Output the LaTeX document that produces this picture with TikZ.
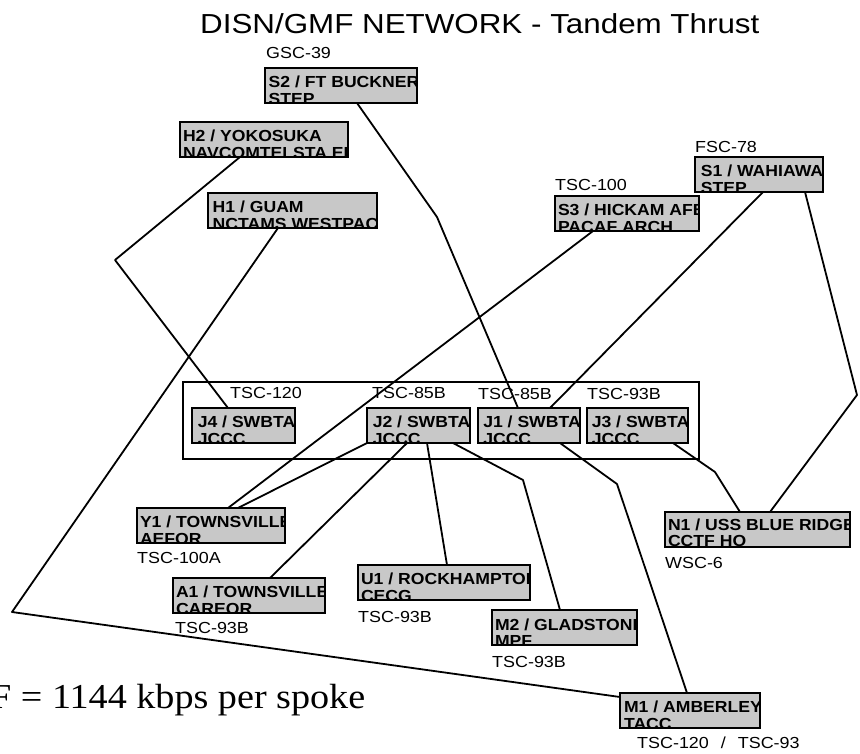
\documentclass[tikz,border=0pt]{standalone}
\usepackage{fontspec}
\setmainfont{Liberation Serif}[FakeStretch=1.09]
\newfontfamily\lblfamily{Liberation Sans}[FakeStretch=1.12]
\newfontfamily\titlefamily{Liberation Sans}[FakeStretch=1.14]
\newfontfamily\boxfamily{Liberation Sans}[FakeStretch=1.1]
\definecolor{boxgray}{RGB}{200,200,200}
\newcommand\stn[5]{%
  \node[stnbox, minimum width=#4pt, path picture={\node[boxtxt] at ([xshift=3pt,yshift=-5pt]path picture bounding box.north west) {#5};}] (#1) at (#2,#3) {};}
\begin{document}
\begin{tikzpicture}[x=1pt,y=-1pt,
  stnbox/.style={draw, line width=2.6pt, fill=boxgray, anchor=north west, minimum height=35pt, inner sep=0pt, outer sep=0pt},
  boxtxt/.style={anchor=north west, inner sep=0pt, align=left, font=\boxfamily\bfseries\fontsize{16}{16.5}\selectfont},
  lbl/.style={anchor=base west, inner sep=0pt, font=\lblfamily\fontsize{16}{18}\selectfont},
  wire/.style={line width=1.8pt, line join=round},
]
\useasboundingbox (0,0) rectangle (860,753);
\clip (0,0) rectangle (860,753);

\node[anchor=base west, inner sep=0pt, font=\titlefamily\fontsize{27.5}{30}\selectfont] (title) at (200,33) {DISN/GMF NETWORK - Tandem Thrust};

% group frame
\node[draw, line width=2.2pt, anchor=north west, minimum width=516pt, minimum height=77pt, inner sep=0pt] (grp) at (182,381) {};

% stations
\stn{S2}{265}{68}{152}{S2 / FT BUCKNER\\STEP}
\stn{H2}{180}{122}{168}{H2 / YOKOSUKA\\NAVCOMTELSTA EF}
\stn{H1}{208}{193}{169}{H1 / GUAM\\NCTAMS WESTPAC}
\stn{S3}{555}{196}{144}{S3 / HICKAM AFB\\PACAF ARCH}
\stn{S1}{695}{157}{128}{S1 / WAHIAWA\\STEP}
\stn{J4}{192}{408}{103}{J4 / SWBTA\\JCCC}
\stn{J2}{367}{408}{103}{J2 / SWBTA\\JCCC}
\stn{J1}{478}{408}{102}{J1 / SWBTA\\JCCC}
\stn{J3}{587}{408}{101}{J3 / SWBTA\\JCCC}
\stn{Y1}{137}{508}{148}{Y1 / TOWNSVILLE\\AEFOR}
\stn{A1}{173}{578}{152}{A1 / TOWNSVILLE\\CAREOR}
\stn{U1}{358}{565}{172}{U1 / ROCKHAMPTON\\CECG}
\stn{M2}{492}{610}{145}{M2 / GLADSTONE\\MPF}
\stn{N1}{665}{512}{185}{N1 / USS BLUE RIDGE\\CCTF HQ}
\stn{M1}{620}{693}{140}{M1 / AMBERLEY\\TACC}

% terminal labels
\node[lbl] (lS2) at (266,58) {GSC-39};
\node[lbl] (lS1) at (695,152) {FSC-78};
\node[lbl] (lS3) at (555,190) {TSC-100};
\node[lbl] (lJ4) at (230,398) {TSC-120};
\node[lbl] (lJ2) at (372,398) {TSC-85B};
\node[lbl] (lJ1) at (478,399) {TSC-85B};
\node[lbl] (lJ3) at (587,399) {TSC-93B};
\node[lbl] (lY1) at (137,563) {TSC-100A};
\node[lbl] (lA1) at (175,633) {TSC-93B};
\node[lbl] (lU1) at (358,622) {TSC-93B};
\node[lbl] (lM2) at (492,667) {TSC-93B};
\node[lbl] (lN1) at (665,568) {WSC-6};
\node[lbl] (lM1) at (637,748) {TSC-120\hspace{12pt}/\hspace{12pt}TSC-93};

\node[anchor=base west, inner sep=0pt, font=\fontsize{35}{38}\selectfont] (rate) at (-10,708) {F = 1144 kbps per spoke};

% bend points
\coordinate (kS2) at (437,217);
\coordinate (kH2) at (115,260);
\coordinate (kH1) at (12,612);
\coordinate (kS1) at (857,395);
\coordinate (kM2) at (523,480);
\coordinate (kM1) at (617,484);
\coordinate (kN1) at (715,472);

% links
\draw[wire] ([xshift=92pt]S2.south west) -- (kS2) -- ([xshift=40pt]J1.north west);
\draw[wire] ([xshift=60pt]H2.south west) -- (kH2) -- ([xshift=36pt]J4.north west);
\draw[wire] ([xshift=70pt]H1.south west) -- (kH1) -- ([yshift=-4pt]M1.north west);
\draw[wire] ([xshift=38pt]S3.south west) -- ([xshift=91pt]Y1.north west);
\draw[wire] ([xshift=68pt]S1.south west) -- ([xshift=72pt]J1.north west);
\draw[wire] ([xshift=110pt]S1.south west) -- (kS1) -- ([xshift=105pt]N1.north west);
\draw[wire] (J2.south west) -- ([xshift=101pt]Y1.north west);
\draw[wire] ([xshift=40pt]J2.south west) -- ([xshift=97pt]A1.north west);
\draw[wire] ([xshift=60pt]J2.south west) -- ([xshift=89pt]U1.north west);
\draw[wire] ([xshift=86pt]J2.south west) -- (kM2) -- ([xshift=68pt]M2.north west);
\draw[wire] ([xshift=82pt]J1.south west) -- (kM1) -- ([xshift=67pt]M1.north west);
\draw[wire] ([xshift=86pt]J3.south west) -- (kN1) -- ([xshift=75pt]N1.north west);
\end{tikzpicture}
\end{document}
